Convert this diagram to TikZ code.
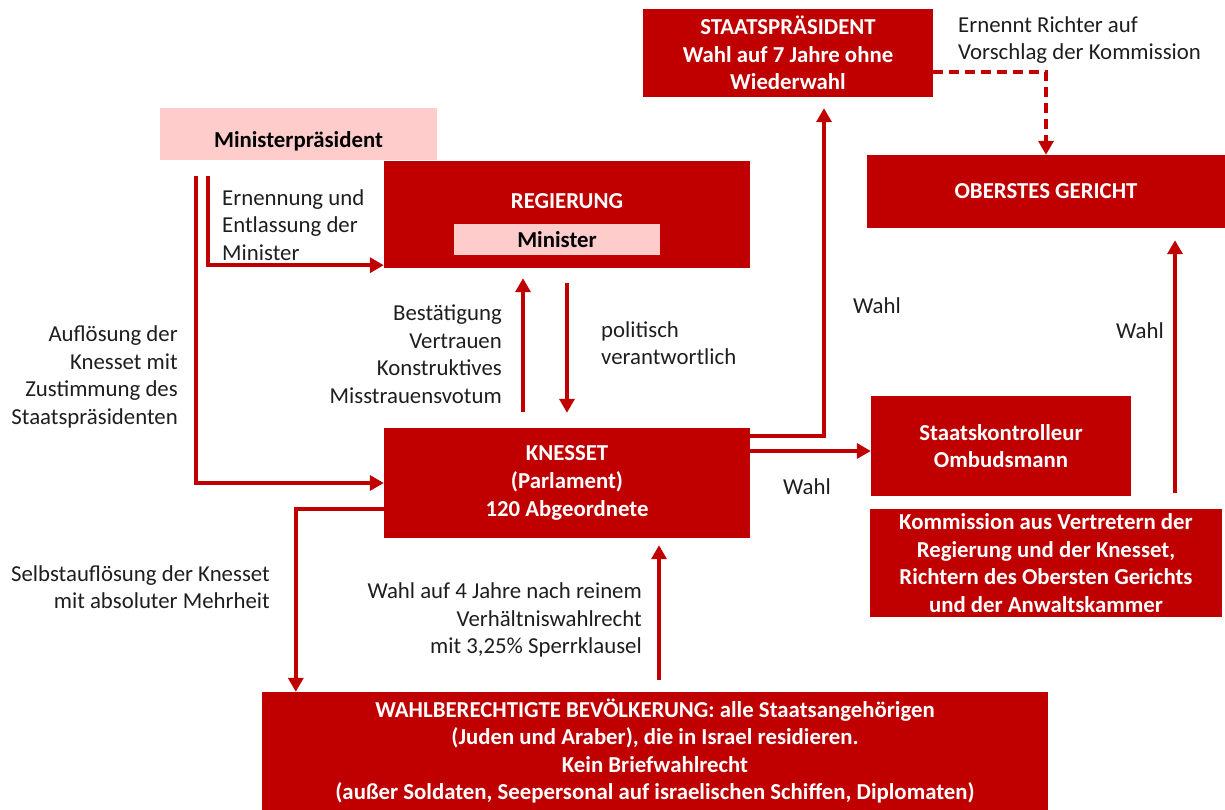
\documentclass[tikz,border=0pt]{standalone}
\usepackage{fontspec}
\setmainfont{Carlito}
\usetikzlibrary{arrows.meta, calc}
\definecolor{boxred}{RGB}{192, 0, 0}
\definecolor{boxpink}{RGB}{255, 204, 204}
\definecolor{txtdark}{RGB}{30, 30, 30}

\begin{document}
\begin{tikzpicture}[x=1pt, y=-1pt,
    box/.style={fill=boxred, text=white, font=\fontsize{22.8}{27.6}\selectfont\bfseries, align=center, inner sep=0pt},
    pinkbox/.style={fill=boxpink, text=black, font=\fontsize{22.8}{27.6}\selectfont\bfseries, align=center, inner sep=0pt},
    lbl/.style={font=\fontsize{22.8}{27.6}\selectfont, text=txtdark, inner sep=0pt},
    arr/.style={-{Triangle[length=14pt, width=15pt]}, color=boxred, line width=4pt},
    dasharr/.style={arr, dash pattern=on 10pt off 6pt},
  ]
    \useasboundingbox (0, 0) rectangle (1225, 810);

    % boxes
    \node[box, minimum width=290pt, minimum height=88pt] (praes) at (788, 53) {STAATSPRÄSIDENT\\Wahl auf 7 Jahre ohne\\Wiederwahl};
    \node[box, minimum width=358pt, minimum height=73pt] (gericht) at (1046, 191.5) {OBERSTES GERICHT};
    \node[pinkbox, minimum width=277pt, minimum height=52pt, text height=33pt, text depth=5pt] (mp) at (298.5, 134) {Ministerpräsident};
    \node[box, minimum width=366pt, minimum height=107pt] (regierung) at (567, 214.5) {};
    \node[box] (regtitle) at (567, 201) {REGIERUNG};
    \node[pinkbox, minimum width=206pt, minimum height=31pt] (minister) at (557, 239.5) {Minister};
    \node[box, minimum width=366pt, minimum height=110pt] (knesset) at (567, 483) {KNESSET\\(Parlament)\\120 Abgeordnete};
    \node[box, minimum width=260pt, minimum height=100pt] (kontrolleur) at (1001, 446) {Staatskontrolleur\\Ombudsmann};
    \node[box, minimum width=352pt, minimum height=108pt] (kommission) at (1046, 563) {Kommission aus Vertretern der\\Regierung und der Knesset,\\Richtern des Obersten Gerichts\\und der Anwaltskammer};
    \node[box, minimum width=786pt, minimum height=118pt] (wahl) at (655, 751) {WAHLBERECHTIGTE BEVÖLKERUNG: alle Staatsangehörigen\\(Juden und Araber), die in Israel residieren.\\Kein Briefwahlrecht\\(außer Soldaten, Seepersonal auf israelischen Schiffen, Diplomaten)};

    % labels
    \node[lbl, anchor=west, align=left] (ernenntlbl) at (958, 40) {Ernennt Richter auf\\Vorschlag der Kommission};
    \node[lbl, anchor=west, align=left] (ernennunglbl) at (222, 225) {Ernennung und\\Entlassung der\\Minister};
    \node[lbl, anchor=east, align=right] (aufloesunglbl) at (178, 377) {Auflösung der\\Knesset mit\\Zustimmung des\\Staatspräsidenten};
    \node[lbl, anchor=east, align=right] (bestaetigunglbl) at (502, 354) {Bestätigung\\Vertrauen\\Konstruktives\\Misstrauensvotum};
    \node[lbl, anchor=west, align=left] (politischlbl) at (601, 343) {politisch\\verantwortlich};
    \node[lbl] (wahlpraeslbl) at (877, 306) {Wahl};
    \node[lbl] (wahlkonlbl) at (807, 487) {Wahl};
    \node[lbl] (wahlgerichtlbl) at (1140, 331) {Wahl};
    \node[lbl, anchor=east, align=right] (selbstlbl) at (270, 587) {Selbstauflösung der Knesset\\mit absoluter Mehrheit};
    \node[lbl, anchor=east, align=right] (wahlvierlbl) at (642, 620) {Wahl auf 4 Jahre nach reinem\\Verhältniswahlrecht\\mit 3,25\% Sperrklausel};

    % connectors
    \draw[dasharr] ([yshift=-19pt]praes.east) -| (gericht.north);
    \draw[arr, shorten <=16pt] ([xshift=48pt]mp.south west) |- ([yshift=3pt]regierung.south west);
    \draw[arr, shorten <=16pt] ([xshift=36pt]mp.south west) |- (knesset.west);
    \draw[arr, shorten <=16pt, shorten >=10pt] ([xshift=-44pt]knesset.north) -- ([xshift=-44pt]regierung.south);
    \draw[arr, shorten <=15pt, shorten >=15pt] (regierung.south) -- (knesset.north);
    \draw[arr, shorten >=11pt] ([yshift=-8pt]knesset.north east) -| ([xshift=36pt]praes.south);
    \draw[arr] ($(kontrolleur.west -| knesset.east)+(0, 5)$) -- ($(kontrolleur.west)+(0, 5)$);
    \draw[arr, shorten <=16pt, shorten >=12pt] ([xshift=129pt]kommission.north) -- ([xshift=129pt]gericht.south);
    \draw[arr] ([yshift=-26pt]knesset.west) -| ([xshift=34pt]wahl.north west);
    \draw[arr, shorten <=12pt, shorten >=7pt] ($(wahl.north)+(4, 0)$) -- ($(wahl.north |- knesset.south)+(4, 0)$);

  \end{tikzpicture}
\end{document}
